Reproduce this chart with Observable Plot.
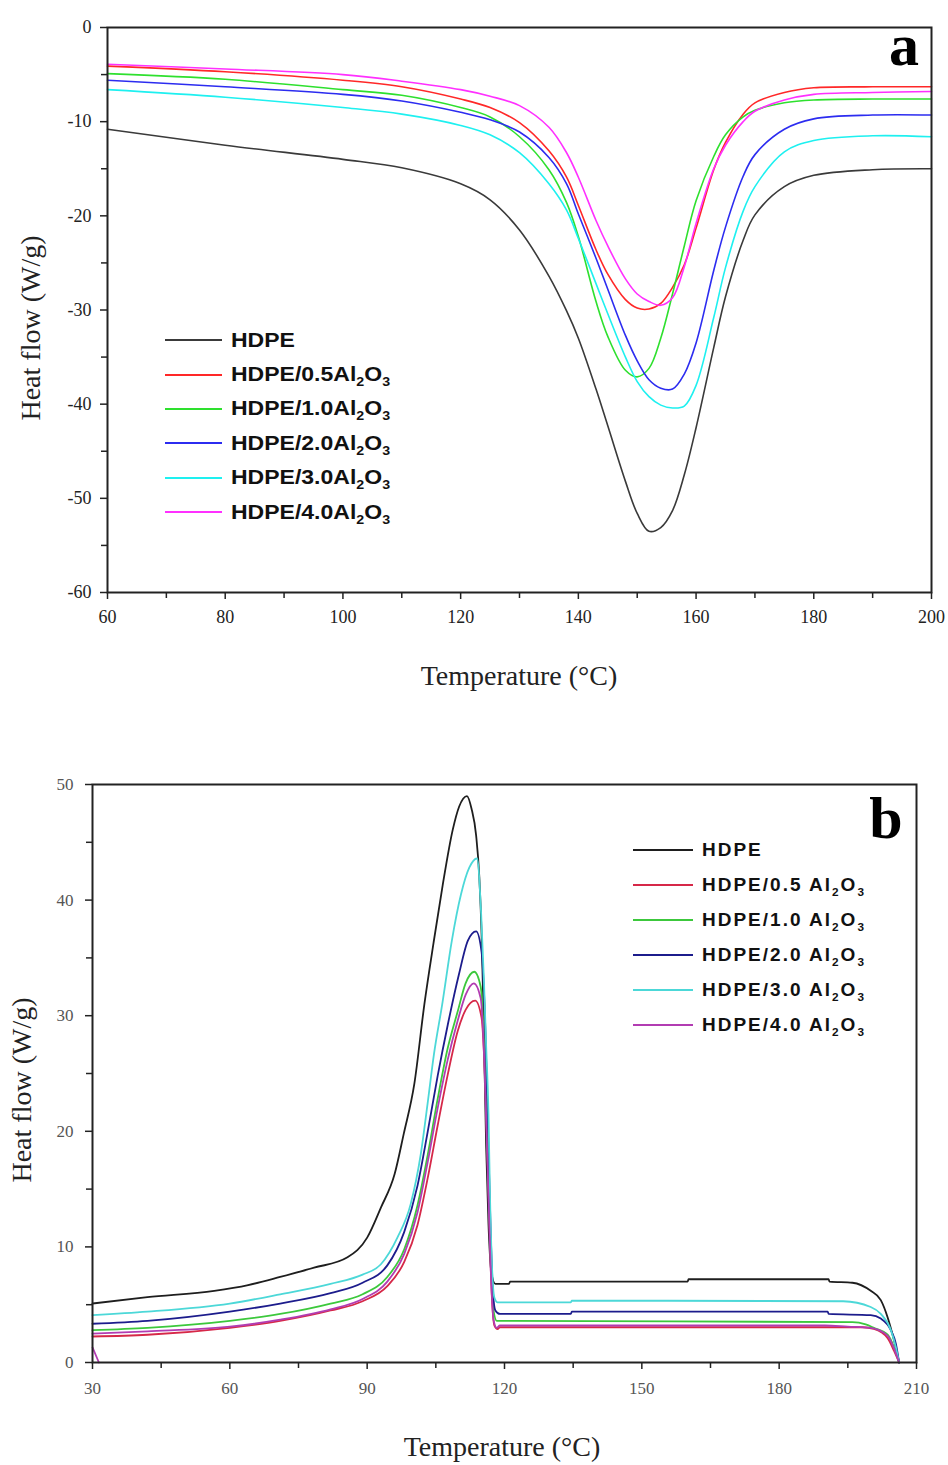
<!DOCTYPE html>
<html>
<head>
<meta charset="utf-8">
<script src="https://cdn.jsdelivr.net/npm/d3@7"></script>
<script src="https://cdn.jsdelivr.net/npm/@observablehq/plot@0.6"></script>
<style>
  body { margin: 0; background: #fff; }
  #page { position: relative; width: 948px; height: 1465px; overflow: hidden; background: #fff; }
  .abs { position: absolute; white-space: nowrap; line-height: 1; }
  .serif { font-family: "Liberation Serif", "Times New Roman", serif; color: #222; }
  .leg { position: absolute; font-family: "Liberation Sans", Arial, sans-serif; font-weight: bold; color: #111; }
  .row { display: flex; align-items: center; white-space: nowrap; }
  .sw { display: inline-block; height: 0; border-top: 2px solid; flex: none; }
  .tx { display: inline-block; transform-origin: left center; }
  sub { font-size: 0.62em; vertical-align: -0.42em; line-height: 0; }
</style>
</head>
<body>
<div id="page">
  <div id="plotA" class="abs" style="left:0;top:0;"></div>
  <div id="plotB" class="abs" style="left:0;top:720px;"></div>
</div>
<script>
// ---------------- Panel (a): melting (heating) curves ----------------
const seriesA = ["HDPE", "HDPE/0.5Al2O3", "HDPE/1.0Al2O3", "HDPE/2.0Al2O3", "HDPE/3.0Al2O3", "HDPE/4.0Al2O3"];
const colorsA = ["#3a3a3a", "#ff2828", "#2ee02e", "#2c2cf0", "#1ef0f0", "#ff30ff"];
const tempA = [60, 80, 100, 110, 120, 125, 130, 135, 138, 140, 143, 145, 148, 150, 152, 154, 156, 158, 160, 163, 165, 168, 170, 175, 180, 190, 200];
const a_HDPE = [-10.8, -12.5, -14.0, -14.9, -16.6, -18.3, -21.5, -26.4, -30.1, -33.0, -38.4, -42.3, -48.2, -51.6, -53.5, -53.1, -51.3, -47.5, -42.5, -34.0, -28.6, -22.6, -19.9, -16.9, -15.7, -15.1, -15.0];
const a_05 = [-4.1, -4.7, -5.6, -6.3, -7.6, -8.5, -10.1, -13.1, -15.9, -18.9, -23.6, -26.2, -28.9, -29.8, -29.9, -29.3, -27.6, -25.2, -21.3, -15.1, -12.2, -9.2, -8.0, -6.9, -6.4, -6.3, -6.3];
const a_10 = [-4.9, -5.5, -6.6, -7.2, -8.5, -9.5, -11.6, -15.1, -18.6, -22.2, -29.1, -32.8, -36.4, -37.1, -36.2, -33.0, -28.3, -23.2, -18.4, -13.7, -11.4, -9.5, -8.8, -8.0, -7.7, -7.6, -7.6];
const a_20 = [-5.6, -6.3, -7.1, -7.8, -9.0, -9.8, -11.1, -13.8, -16.6, -19.8, -24.5, -27.8, -32.7, -35.4, -37.4, -38.3, -38.4, -36.8, -33.5, -25.8, -21.2, -15.8, -13.5, -10.8, -9.7, -9.3, -9.3];
const a_30 = [-6.6, -7.4, -8.5, -9.2, -10.4, -11.4, -13.3, -16.6, -19.4, -22.4, -27.2, -30.4, -35.0, -37.6, -39.2, -40.1, -40.4, -40.2, -38.0, -30.8, -25.5, -19.5, -16.9, -13.2, -12.0, -11.5, -11.6];
const a_40 = [-3.9, -4.4, -5.0, -5.7, -6.6, -7.3, -8.3, -10.6, -13.3, -15.9, -20.5, -23.2, -26.7, -28.3, -29.1, -29.5, -28.7, -25.4, -20.8, -15.0, -12.5, -10.0, -8.9, -7.7, -7.1, -6.9, -6.8];
const xMajorA = [60, 80, 100, 120, 140, 160, 180, 200];
const xMinorA = [70, 90, 110, 130, 150, 170, 190];
const yMajorA = [0, -10, -20, -30, -40, -50, -60];
const yMinorA = [-5, -15, -25, -35, -45, -55];

// ---------------- Panel (b): crystallization (cooling) curves ----------------
const seriesB = ["HDPE", "HDPE/0.5 Al2O3", "HDPE/1.0 Al2O3", "HDPE/2.0 Al2O3", "HDPE/3.0 Al2O3", "HDPE/4.0 Al2O3"];
const colorsB = ["#1e1e1e", "#d62848", "#3cc83c", "#1c1c8c", "#4cd8d8", "#b23cb2"];
const bT_HDPE = [30, 42, 56.6, 64, 71, 78.4, 85.7, 90, 93, 96, 98, 100.3, 102.5, 104.5, 106.5, 108.7, 110.1, 111.8, 112.8, 113.8, 114.5, 115, 115.4, 115.7, 116, 116.5, 117.2, 118, 121, 121.2, 160, 160.2, 190.8, 191, 196, 200, 202.2, 203.7, 205.1, 206.2];
const bV_HDPE = [5.1, 5.65, 6.2, 6.7, 7.4, 8.2, 9.1, 10.8, 13.4, 16.3, 19.8, 24.1, 31.0, 36.3, 41.3, 46.1, 48.1, 49.0, 47.9, 45.6, 42.0, 37.0, 30.5, 24.4, 18.6, 12.0, 7.6, 6.8, 6.8, 7.0, 7.0, 7.2, 7.2, 7.0, 6.9, 6.2, 5.4, 3.9, 1.9, 0];
const bT_05 = [30, 42, 60, 71, 82, 89, 94.4, 98.1, 101, 103.2, 105.4, 107.6, 109.8, 111.5, 113.6, 115, 115.8, 116.5, 117.2, 117.8, 118.5, 119, 198.2, 200.7, 203.7, 205.1, 206.2];
const bV_05 = [2.25, 2.4, 3.0, 3.6, 4.5, 5.3, 6.6, 8.7, 11.9, 15.9, 20.5, 24.9, 28.7, 30.5, 31.3, 29.8, 24.0, 15.0, 6.0, 3.2, 2.9, 3.05, 3.05, 2.9, 2.1, 1.0, 0];
const bT_10 = [30, 42, 60, 71, 82, 89, 94.4, 98.1, 101, 103.2, 105.4, 107.6, 109.8, 111.5, 113.4, 114.8, 115.6, 116.3, 117, 117.6, 118.3, 196, 198.9, 200.7, 203.7, 205.1, 206.2];
const bV_10 = [2.8, 3.0, 3.6, 4.2, 5.1, 5.9, 7.4, 9.8, 13.6, 17.9, 22.8, 27.2, 30.4, 32.8, 33.8, 32.5, 27.0, 18.0, 9.0, 4.5, 3.6, 3.5, 3.3, 3.0, 2.4, 1.3, 0];
const bT_20 = [30, 42, 60, 71, 82, 89, 94.4, 98.1, 101, 103.2, 105.4, 107.6, 110, 112, 113.8, 115, 115.8, 116.4, 117, 117.5, 118, 119, 134.5, 134.7, 190.6, 190.8, 200, 202.2, 204.4, 205.5, 206.2];
const bV_20 = [3.35, 3.6, 4.4, 5.1, 6.0, 6.9, 8.4, 11.3, 15.3, 19.9, 24.8, 29.2, 33.5, 36.5, 37.3, 35.5, 29.0, 20.0, 11.0, 6.0, 4.5, 4.2, 4.2, 4.4, 4.4, 4.2, 4.1, 3.8, 2.8, 1.6, 0];
const bT_30 = [30, 42, 60, 71, 82, 89, 93, 96.6, 99.5, 101.7, 103.2, 104.6, 106.4, 108.5, 110.5, 112.3, 114, 114.9, 115.5, 116, 116.5, 116.8, 117.3, 117.8, 118.5, 134.5, 134.7, 194, 200, 202.2, 204.4, 205.5, 206.2];
const bV_30 = [4.1, 4.4, 5.1, 5.9, 6.8, 7.6, 8.5, 10.8, 13.7, 18.0, 22.4, 26.7, 31.0, 36.5, 40.5, 42.8, 43.6, 38.8, 33.1, 27.3, 21.5, 15.0, 8.0, 5.6, 5.2, 5.2, 5.35, 5.3, 4.8, 4.2, 2.8, 1.3, 0];
const bT_40 = [30, 42, 60, 71, 82, 89, 94.4, 98.1, 101, 103.2, 105.4, 107.6, 109.8, 111.5, 113.3, 114.8, 115.6, 116.3, 117, 117.6, 118.3, 119, 190, 195, 200, 203.7, 205.1, 206.2];
const bV_40 = [2.5, 2.7, 3.1, 3.7, 4.6, 5.5, 7.0, 9.4, 13.0, 17.3, 22.0, 26.2, 29.6, 31.8, 32.8, 31.5, 26.0, 17.0, 8.0, 3.7, 3.0, 3.2, 3.2, 3.1, 3.0, 2.3, 1.2, 0];
const bT_40start = [30, 31.4];
const bV_40start = [1.3, 0];
const xMajorB = [30, 60, 90, 120, 150, 180, 210];
const xMinorB = [45, 75, 105, 135, 165, 195];
const yMajorB = [0, 10, 20, 30, 40, 50];
const yMinorB = [5, 15, 25, 35, 45];

// ---------------- build tables ----------------
const valuesA = [a_HDPE, a_05, a_10, a_20, a_30, a_40];
const rowsA = seriesA.flatMap((s, i) => tempA.map((t, j) => ({s, seg: s, t, v: valuesA[i][j]})));

const tB = [bT_HDPE, bT_05, bT_10, bT_20, bT_30, bT_40];
const vB = [bV_HDPE, bV_05, bV_10, bV_20, bV_30, bV_40];
const rowsB = seriesB.flatMap((s, i) => tB[i].map((t, j) => ({s, seg: s, t, v: vB[i][j]})))
  .concat(bT_40start.map((t, j) => ({s: seriesB[5], seg: "start", t, v: bV_40start[j]})));

const fmt = d => String(d);

const plotA = Plot.plot({
  width: 948, height: 720,
  marginLeft: 107, marginRight: 17, marginTop: 27, marginBottom: 128,
  x: {domain: [60, 200]},
  y: {domain: [-60, 0]},
  color: {domain: seriesA, range: colorsA},
  style: {fontFamily: "'Liberation Serif', serif", fontSize: "18px", color: "#222", background: "transparent"},
  marks: [
    Plot.line(rowsA, {x: "t", y: "v", z: "seg", stroke: "s", strokeWidth: 1.6, curve: "catmull-rom"}),
    Plot.frame({stroke: "#222", strokeWidth: 2}),
    Plot.axisX({ticks: xMajorA, tickSize: 7, tickPadding: 11, tickFormat: fmt, label: null, strokeWidth: 1.5}),
    Plot.axisX({ticks: xMinorA, tickSize: 6, tickFormat: () => "", label: null, strokeWidth: 1.5}),
    Plot.axisY({ticks: yMajorA, tickSize: 7, tickPadding: 9, tickFormat: fmt, label: null, strokeWidth: 1.5}),
    Plot.axisY({ticks: yMinorA, tickSize: 6, tickFormat: () => "", label: null, strokeWidth: 1.5})
  ]
});
document.getElementById("plotA").appendChild(plotA);

const plotB = Plot.plot({
  width: 948, height: 745,
  marginLeft: 92, marginRight: 32, marginTop: 64, marginBottom: 103,
  x: {domain: [30, 210]},
  y: {domain: [0, 50]},
  color: {domain: seriesB, range: colorsB},
  style: {fontFamily: "'Liberation Serif', serif", fontSize: "17px", color: "#555", background: "transparent"},
  marks: [
    Plot.line(rowsB, {x: "t", y: "v", z: "seg", stroke: "s", strokeWidth: 1.8, curve: "monotone-x"}),
    Plot.frame({stroke: "#222", strokeWidth: 2}),
    Plot.axisX({ticks: xMajorB, tickSize: 7, tickPadding: 12, tickFormat: fmt, label: null, strokeWidth: 1.5, stroke: "#222"}),
    Plot.axisX({ticks: xMinorB, tickSize: 6, tickFormat: () => "", label: null, strokeWidth: 1.5, stroke: "#222"}),
    Plot.axisY({ticks: yMajorB, tickSize: 7, tickPadding: 12, tickFormat: fmt, label: null, strokeWidth: 1.5, stroke: "#222"}),
    Plot.axisY({ticks: yMinorB, tickSize: 6, tickFormat: () => "", label: null, strokeWidth: 1.5, stroke: "#222"})
  ]
});
document.getElementById("plotB").appendChild(plotB);

// ---------------- text overlays ----------------
const page = document.getElementById("page");
function chem(name) {
  return name.replace("Al2O3", "Al<sub>2</sub>O<sub>3</sub>");
}
function addText(html, cx, cy, css, rotate) {
  const d = document.createElement("div");
  d.className = "abs serif";
  d.innerHTML = html;
  d.style.cssText += css;
  d.style.left = cx + "px";
  d.style.top = cy + "px";
  d.style.transform = "translate(-50%,-50%)" + (rotate ? " rotate(-90deg)" : "");
  page.appendChild(d);
}
addText("Temperature (°C)", 519, 676, "font-size:28px;");
addText("Heat flow (W/g)", 31, 328, "font-size:28px;", true);
addText("Temperature (°C)", 502, 1447, "font-size:28px;");
addText("Heat flow (W/g)", 22, 1090, "font-size:28px;", true);
addText("a", 904, 45, "font-size:60px;font-weight:bold;color:#000;");
addText("b", 886, 818, "font-size:60px;font-weight:bold;color:#000;");

function addLegend(names, colors, left, top, rowH, swW, gap, fontCss, stretch) {
  const box = document.createElement("div");
  box.className = "leg";
  box.style.left = left + "px";
  box.style.top = top + "px";
  box.style.cssText += fontCss;
  names.forEach((n, i) => {
    const r = document.createElement("div");
    r.className = "row";
    r.style.height = rowH + "px";
    const sw = document.createElement("span");
    sw.className = "sw";
    sw.style.width = swW + "px";
    sw.style.borderTopColor = colors[i];
    sw.style.marginRight = gap + "px";
    const tx = document.createElement("span");
    tx.className = "tx";
    tx.style.transform = "scaleX(" + stretch + ")";
    tx.innerHTML = chem(n);
    r.appendChild(sw);
    r.appendChild(tx);
    box.appendChild(r);
  });
  page.appendChild(box);
}
addLegend(seriesA, colorsA, 165, 323, 34.4, 57, 9, "font-size:19.5px;", 1.18);
addLegend(seriesB, colorsB, 633, 832, 35, 60, 9, "font-size:19px;letter-spacing:2px;", 1.0);
</script>
</body>
</html>
